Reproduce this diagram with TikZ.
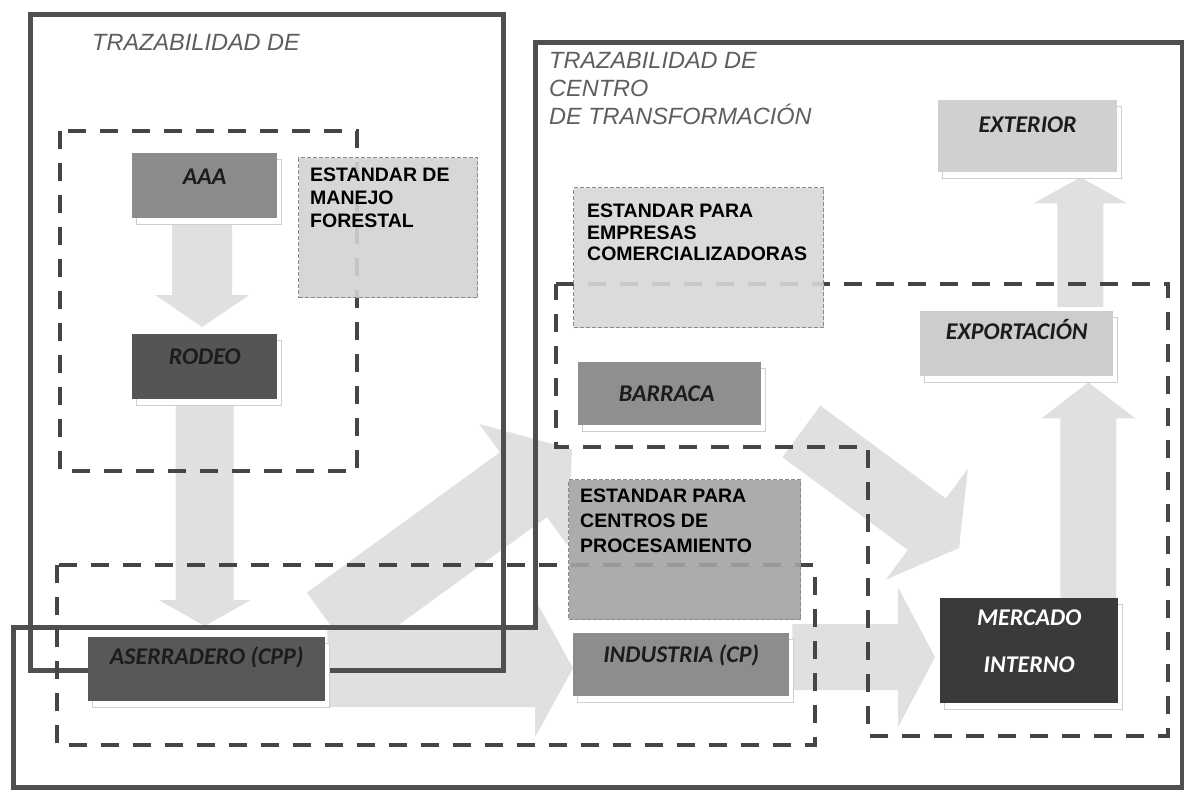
\documentclass[tikz,border=0pt]{standalone}
\usepackage{fontspec}
\setmainfont{Liberation Sans}
\newfontfamily\carlitofont{Carlito}
\usetikzlibrary{calc}
\pgfdeclarelayer{paper}
\pgfdeclarelayer{arrows}
\pgfdeclarelayer{frames}
\pgfsetlayers{paper,arrows,frames,main}

\definecolor{framegray}{HTML}{4F4F4F}
\definecolor{dashgray}{HTML}{454545}
\definecolor{arrowgray}{HTML}{E0E0E0}
\definecolor{shadowgray}{HTML}{CFCFCF}
\definecolor{titlegray}{HTML}{5E5E5E}
\definecolor{stdborder}{HTML}{8A8A8A}
\definecolor{labeldark}{HTML}{1C1C1C}
\definecolor{fillaaa}{HTML}{8B8B8B}
\definecolor{fillrodeo}{HTML}{555555}
\definecolor{fillaser}{HTML}{585858}
\definecolor{fillind}{HTML}{8D8D8D}
\definecolor{fillbarr}{HTML}{8F8F8F}
\definecolor{fillext}{HTML}{D0D0D0}
\definecolor{fillexp}{HTML}{CDCDCD}
\definecolor{fillmerc}{HTML}{3A3A3A}
\definecolor{fillmanejo}{HTML}{D3D3D3}
\definecolor{fillempr}{HTML}{D8D8D8}
\definecolor{fillcentros}{HTML}{A3A3A3}

\tikzset{
  bigframe/.style={draw=framegray, line width=5pt},
  dashframe/.style={draw=dashgray, line width=3.2pt, dash pattern=on 18pt off 14pt},
  stdbox/.style={draw=stdborder, line width=1.3pt, dash pattern=on 4pt off 2pt, inner sep=0pt, anchor=north west, fill opacity=0.9},
  solidbox/.style={inner sep=0pt, anchor=north west},
  boxshadow/.style={draw=shadowgray, line width=1pt, fill=white},
  arrowfill/.style={fill=arrowgray},
  lbl/.style={font=\carlitofont\bfseries\itshape\fontsize{24}{26}\selectfont, text=labeldark, text height=15.5pt, text depth=0pt, inner sep=0pt},
  stdtext/.style={font=\bfseries\fontsize{19.5}{23}\selectfont, align=left, anchor=north west, inner sep=0pt, text=black},
  titletext/.style={font=\itshape\fontsize{23.5}{28}\selectfont, text=titlegray, align=left, anchor=north west, inner sep=0pt},
}

\newcommand\mybox[6]{%
  \draw[boxshadow] (#2+4,#3+6) rectangle (#4+4,#5+6);
  \node[solidbox, fill=#6, minimum width={(#4-#2)*1pt}, minimum height={(#5-#3)*1pt}] (#1) at (#2,#3) {};
}
\newcommand\blockarrow[6]{%
  \coordinate (#1t) at (#2);
  \coordinate (#1p) at (#3);
  \coordinate (#1b) at ($(#1p)!#6!(#1t)$);
  \fill[arrowfill] ($(#1t)!#4!90:(#1p)$) -- ($(#1b)!#4!-90:(#1t)$) -- ($(#1b)!#5!-90:(#1t)$) -- (#1p) -- ($(#1b)!#5!90:(#1t)$) -- ($(#1b)!#4!90:(#1t)$) -- ($(#1t)!#4!-90:(#1p)$) -- cycle;
}

\begin{document}
\begin{tikzpicture}[x=1pt, y=-1pt]
\useasboundingbox (0,0) rectangle (1184,796);
\begin{pgfonlayer}{paper}
  \fill[white] (0,0) rectangle (1184,796);
\end{pgfonlayer}

% solid boxes
\mybox{aaa}{132}{153}{277}{218}{fillaaa}
\mybox{rodeo}{132}{334}{277}{399}{fillrodeo}
\mybox{aser}{88}{637}{325}{701}{fillaser}
\mybox{ind}{573}{633}{789}{696}{fillind}
\mybox{barr}{578}{362}{761}{425}{fillbarr}
\mybox{ext}{938}{100}{1117}{172}{fillext}
\mybox{exp}{920}{311}{1113}{376}{fillexp}
\mybox{merc}{940}{598}{1118}{703}{fillmerc}

% labels
\node[lbl] at ($(aaa.north)+(0,24)$) {AAA};
\node[lbl] at ($(rodeo.north)+(0,23)$) {RODEO};
\node[lbl] at ($(aser.north)+(0,20)$) {ASERRADERO (CPP)};
\node[lbl] at ($(ind.north)+(0,22)$) {INDUSTRIA (CP)};
\node[lbl] at ($(barr.north)+(-3,32)$) {BARRACA};
\node[lbl] at ($(ext.north)+(0,25)$) {EXTERIOR};
\node[lbl] at ($(exp.north)+(0,21)$) {EXPORTACIÓN};
\node[lbl, text=white, align=center, font=\carlitofont\bfseries\itshape\fontsize{24}{47}\selectfont, text height=, text depth=, anchor=north] at ($(merc.north)+(0,12)$) {MERCADO\\INTERNO};

% standard boxes
\node[stdbox, fill=fillmanejo, minimum width=179pt, minimum height=140pt] (manejo) at (298,157) {};
\node[stdtext] at ($(manejo.north west)+(12,11)$) {ESTANDAR DE\\MANEJO\\FORESTAL};
\node[stdbox, fill=fillempr, minimum width=250pt, minimum height=140pt] (empr) at (573,187) {};
\node[stdtext, font=\bfseries\fontsize{19.5}{21.5}\selectfont] at ($(empr.north west)+(14,17)$) {ESTANDAR PARA\\EMPRESAS\\COMERCIALIZADORAS};
\node[stdbox, fill=fillcentros, minimum width=232pt, minimum height=140pt] (centros) at (568,479) {};
\node[stdtext, font=\bfseries\fontsize{19.5}{25}\selectfont] at ($(centros.north west)+(12,10)$) {ESTANDAR PARA\\CENTROS DE\\PROCESAMIENTO};

% titles
\node[titletext] (tleft) at (92,34) {TRAZABILIDAD DE};
\node[titletext] (tright) at (549,52) {TRAZABILIDAD DE\\CENTRO\\DE TRANSFORMACIÓN};

% block arrows
\begin{pgfonlayer}{arrows}
  \blockarrow{a1}{$(aaa.south)+(-2.5,2)$}{$(rodeo.north)+(-2.5,-7)$}{30pt}{47pt}{32pt}
  \blockarrow{a2}{$(rodeo.south)+(0,3)$}{$(aser.north)+(-2,-11)$}{29pt}{46pt}{26pt}
  \blockarrow{a3}{$(aser.east)+(2,-1)$}{$(ind.west)+(0,3.5)$}{39pt}{69pt}{38pt}
  \blockarrow{a4}{$(ind.east)+(3,-7.5)$}{$(merc.west)+(-5,6.5)$}{33pt}{70pt}{37pt}
  \blockarrow{a5}{$(merc.north east)+(-30,0)$}{$(exp.south east)+(-25,6)$}{28pt}{47pt}{36pt}
  \blockarrow{a6}{$(exp.north east)+(-33,-4)$}{$(ext.south east)+(-37,5)$}{23pt}{47pt}{26pt}
  \blockarrow{a7}{$(aser.north east)+(5,-12)$}{$(barr.south west)+(-6,24)$}{40pt}{75pt}{60pt}
  \blockarrow{a8}{$(barr.south east)+(40,6)$}{$(merc.north west)+(19,-50)$}{32pt}{69pt}{40pt}
\end{pgfonlayer}

% frames
\begin{pgfonlayer}{frames}
  \draw[bigframe] (30,14) rectangle (503,670);
  \draw[bigframe] (535,42) -- (1182,42) -- (1182,787) -- (13,787) -- (13,627) -- (535,627) -- cycle;
  \draw[dashframe] (60,131) rectangle (357,471);
  \draw[dashframe] (57,565) rectangle (815,745);
  \draw[dashframe] (556,284) -- (1168,284) -- (1168,736) -- (868,736) -- (868,447) -- (556,447) -- cycle;
\end{pgfonlayer}
\end{tikzpicture}
\end{document}
